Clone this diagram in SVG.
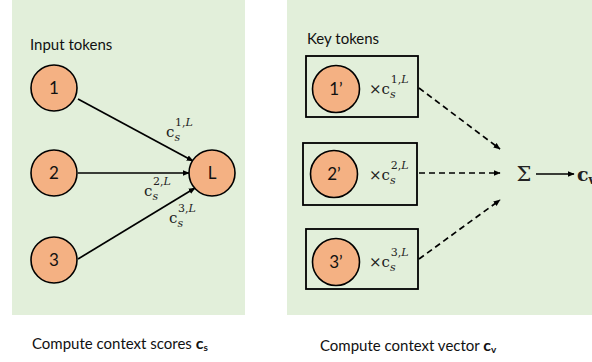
<svg xmlns="http://www.w3.org/2000/svg" width="592" height="362" viewBox="0 0 592 362">
  <style>
    .panel { fill: #e2efda; }
    .tok { fill: #f4b183; stroke: #000; stroke-width: 1.6; }
    .box { fill: none; stroke: #000; stroke-width: 1.8; }
    .lbl { font-family: Lato, "Open Sans", sans-serif; font-size: 17px; fill: #111; text-anchor: middle; }
    .head { font-family: Lato, "Open Sans", sans-serif; font-size: 15px; fill: #111; }
    .math { font-family: "DejaVu Serif", "Liberation Serif", serif; font-size: 15px; fill: #222; }
    .sup { font-size: 11px; }
    .it { font-style: italic; }
    .edge { stroke: #000; stroke-width: 1.7; fill: none; }
    .dash { stroke-dasharray: 6 4; }
  </style>
  <defs>
    <marker id="arr" viewBox="0 0 10 10" refX="9" refY="5" markerWidth="7" markerHeight="7" orient="auto" markerUnits="userSpaceOnUse">
      <path d="M0,1 L10,5 L0,9 z" fill="#000"/>
    </marker>
  </defs>

  <!-- background panels -->
  <rect class="panel" x="12" y="0" width="233" height="315"/>
  <rect class="panel" x="287" y="0" width="305" height="315"/>

  <text class="head" x="30" y="50">Input tokens</text>
  <text class="head" x="307" y="44">Key tokens</text>

  <!-- connectors -->
  <g id="connectors">
    <line class="edge" x1="78" y1="99" x2="193" y2="161" marker-end="url(#arr)"/>
    <line class="edge" x1="78" y1="173" x2="189" y2="173" marker-end="url(#arr)"/>
    <line class="edge" x1="78" y1="259" x2="195" y2="188" marker-end="url(#arr)"/>
    <line class="edge dash" x1="419" y1="88" x2="500" y2="149" marker-end="url(#arr)"/>
    <line class="edge dash" x1="419" y1="173" x2="500" y2="173" marker-end="url(#arr)"/>
    <line class="edge dash" x1="419" y1="259" x2="500" y2="200" marker-end="url(#arr)"/>
    <line class="edge" x1="536" y1="174" x2="574" y2="174" marker-end="url(#arr)"/>
  </g>

  <!-- edge scores -->
  <text class="math" x="166" y="137">c<tspan class="sup it" dy="4">s</tspan><tspan class="sup" dx="-5" dy="-15">1,<tspan class="it">L</tspan></tspan></text>
  <text class="math" x="144" y="196">c<tspan class="sup it" dy="4">s</tspan><tspan class="sup" dx="-5" dy="-15">2,<tspan class="it">L</tspan></tspan></text>
  <text class="math" x="169" y="223">c<tspan class="sup it" dy="4">s</tspan><tspan class="sup" dx="-5" dy="-15">3,<tspan class="it">L</tspan></tspan></text>

  <!-- input token nodes -->
  <g id="node-1"><circle class="tok" cx="54" cy="88" r="23"/><text class="lbl" x="54" y="94">1</text></g>
  <g id="node-2"><circle class="tok" cx="54" cy="173" r="23"/><text class="lbl" x="54" y="179">2</text></g>
  <g id="node-3"><circle class="tok" cx="54" cy="260" r="23"/><text class="lbl" x="54" y="266">3</text></g>
  <g id="node-L"><circle class="tok" cx="212" cy="173" r="23"/><text class="lbl" x="212" y="179">L</text></g>

  <!-- weighted key tokens -->
  <g id="key-1">
    <rect class="box" x="306" y="56" width="112" height="61"/>
    <circle class="tok" cx="336" cy="89" r="23.5"/>
    <text class="lbl" x="336" y="95">1’</text>
    <text class="math" x="369" y="94">×c<tspan class="sup it" dy="4">s</tspan><tspan class="sup" dx="-5" dy="-15">1,<tspan class="it">L</tspan></tspan></text>
  </g>
  <g id="key-2">
    <rect class="box" x="303" y="143" width="114" height="62"/>
    <circle class="tok" cx="334" cy="174" r="23.5"/>
    <text class="lbl" x="334" y="180">2’</text>
    <text class="math" x="369" y="180">×c<tspan class="sup it" dy="4">s</tspan><tspan class="sup" dx="-5" dy="-15">2,<tspan class="it">L</tspan></tspan></text>
  </g>
  <g id="key-3">
    <rect class="box" x="306" y="229" width="112" height="60"/>
    <circle class="tok" cx="336" cy="262" r="23.5"/>
    <text class="lbl" x="336" y="268">3’</text>
    <text class="math" x="369" y="267">×c<tspan class="sup it" dy="4">s</tspan><tspan class="sup" dx="-5" dy="-15">3,<tspan class="it">L</tspan></tspan></text>
  </g>

  <g id="sum">
    <text class="math" x="524" y="181" style="font-size:21px" text-anchor="middle">Σ</text>
  </g>
  <g id="context-vector">
    <text class="math" x="577" y="181" style="font-size:19px;font-weight:bold">c<tspan style="font-size:12px" dy="3">v</tspan></text>
  </g>

  <!-- captions -->
  <text class="head" x="32" y="349">Compute context scores <tspan style="font-weight:bold;font-size:16px">c</tspan><tspan style="font-size:10px;font-weight:bold" dy="2">s</tspan></text>
  <text class="head" x="320" y="351">Compute context vector <tspan style="font-weight:bold;font-size:16px">c</tspan><tspan style="font-size:10px;font-weight:bold" dy="2">v</tspan></text>
</svg>
